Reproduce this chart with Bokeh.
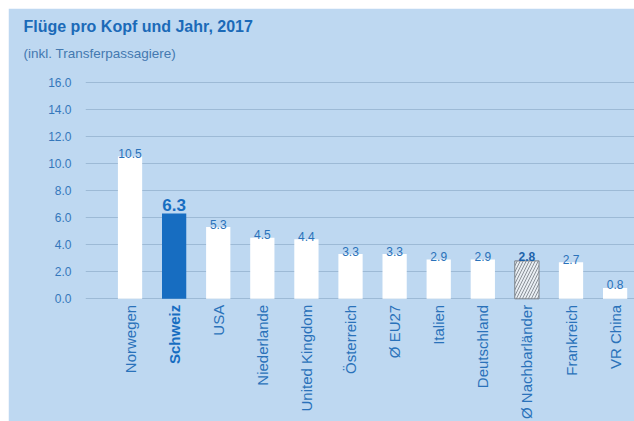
import math
from bokeh.plotting import figure
from bokeh.models import ColumnDataSource, Range1d, FixedTicker, PrintfTickFormatter, Title
from bokeh.core.properties import value
from bokeh.embed import file_html
from bokeh.resources import INLINE

# ---- data ----
categories = ["Norwegen", "Schweiz", "USA", "Niederlande", "United Kingdom",
              "Österreich", "Ø EU27", "Italien", "Deutschland", "Ø Nachbarländer",
              "Frankreich", "VR China"]
flights = [10.5, 6.3, 5.3, 4.5, 4.4, 3.3, 3.3, 2.9, 2.9, 2.8, 2.7, 0.8]
y_ticks = [0, 2, 4, 6, 8, 10, 12, 14, 16]
highlight = "Schweiz"
average_hatched = "Ø Nachbarländer"

title_text = "Flüge pro Kopf und Jahr, 2017"
subtitle_text = "(inkl. Transferpassagiere)"

# ---- styles ----
BG = "#bed8f1"
BLUE = "#176dc1"
TXT = "#2a72ba"
FONT = "Liberation Sans"

xs = list(range(len(categories)))
labels = [f"{v:.1f}" for v in flights]

def subset(names):
    idx = [i for i, c in enumerate(categories) if c in names]
    return ColumnDataSource(dict(x=[xs[i] for i in idx], y=[flights[i] for i in idx],
                                 cat=[categories[i] for i in idx], lab=[labels[i] for i in idx]))

normal = [c for c in categories if c not in (highlight, average_hatched)]
src_normal = subset(normal)
src_high = subset([highlight])
src_hatch = subset([average_hatched])
src_cat_normal = subset([c for c in categories if c != highlight])

p = figure(width=626, height=413, output_backend="svg", toolbar_location=None,
           x_range=Range1d(-1.01, 11.44), y_range=Range1d(-9.06, 16.71),
           x_axis_location=None, min_border_left=77, min_border_right=0,
           min_border_top=64, min_border_bottom=0,
           title=title_text, title_location="above")
p.margin = (8, 0, 0, 8)
p.background_fill_color = BG
p.border_fill_color = BG
p.outline_line_color = BG
p.outline_line_width = 2
p.xgrid.visible = False
p.ygrid.ticker = FixedTicker(ticks=y_ticks)
p.ygrid.grid_line_color = "#9dbad6"
p.ygrid.grid_line_width = 1

p.title.align = "left"
p.title.offset = -62
p.title.text_font = FONT
p.title.text_font_size = "16px"
p.title.text_font_style = "bold"
p.title.text_color = "#1b6ab8"
p.title.standoff = -4

sub = Title(text=subtitle_text, align="left", offset=-62, text_font=FONT,
            text_font_size="13.5px", text_font_style="normal", text_color="#4479b0", standoff=23)
p.add_layout(sub, "above")

ax = p.yaxis[0]
ax.ticker = FixedTicker(ticks=y_ticks)
ax.formatter = PrintfTickFormatter(format="%.1f")
ax.axis_line_color = None
ax.major_tick_line_color = None
ax.minor_tick_line_color = None
ax.major_label_standoff = 8
ax.major_label_text_font = FONT
ax.major_label_text_font_size = "12px"
ax.major_label_text_color = "#3577bb"

W = 0.55
p.vbar(x="x", top="y", bottom=0, width=W, source=src_normal, fill_color="white", line_color=None)
p.vbar(x="x", top="y", bottom=0, width=W, source=src_high, fill_color=BLUE, line_color=None)
p.vbar(x="x", top="y", bottom=0, width=W, source=src_hatch, fill_color="#e8edf2",
       hatch_pattern="/", hatch_color="#8b9198", hatch_scale=6, hatch_weight=1,
       line_color="#7a8088", line_width=1)

# value labels
p.text(x="x", y="y", text="lab", source=src_normal, text_align="center", text_baseline="alphabetic",
       y_offset=-3, text_font=value(FONT), text_font_size="12px", text_color=TXT)
p.text(x="x", y="y", text="lab", source=src_high, text_align="center", text_baseline="alphabetic",
       y_offset=-8, text_font=value(FONT), text_font_size="17px", text_font_style="bold", text_color=BLUE)
p.text(x="x", y="y", text="lab", source=src_hatch, text_align="center", text_baseline="alphabetic",
       y_offset=-4, text_font=value(FONT), text_font_size="12px", text_font_style="bold", text_color="#1d62aa")

# category labels (vertical)
p.text(x="x", y=0, text="cat", source=src_cat_normal, angle=math.pi / 2, text_align="right",
       text_baseline="middle", y_offset=6, text_font=value(FONT), text_font_size="15px", text_color=TXT)
p.text(x="x", y=0, text="cat", source=src_high, angle=math.pi / 2, text_align="right",
       text_baseline="middle", y_offset=6, text_font=value(FONT), text_font_size="15px",
       text_font_style="bold", text_color=BLUE)

open("out.html", "w").write(file_html(p, INLINE))
